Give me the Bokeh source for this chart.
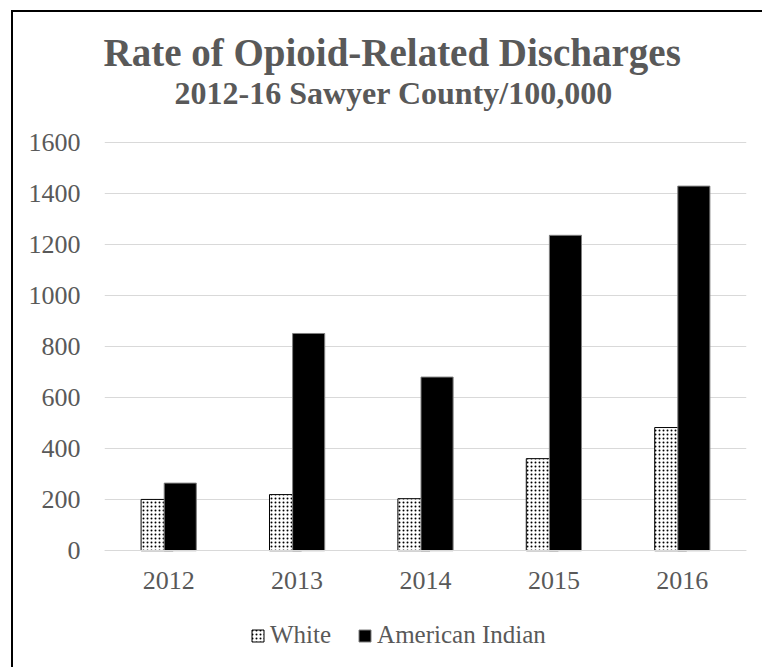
from bokeh.plotting import figure
from bokeh.models import (ColumnDataSource, FactorRange, Range1d, Legend,
                          LegendItem, FixedTicker, Title)
from bokeh.transform import dodge
from bokeh.embed import file_html
from bokeh.resources import INLINE

# ---- data ----
years = ["2012", "2013", "2014", "2015", "2016"]
white = [201, 220, 204, 361, 483]
american_indian = [265, 852, 681, 1237, 1430]
y_ticks = [0, 200, 400, 600, 800, 1000, 1200, 1400, 1600]
title_text = "Rate of Opioid-Related Discharges"
subtitle_text = "2012-16 Sawyer County/100,000"
series_names = ["White", "American Indian"]

FONT = "Liberation Serif"
GRAY = "#595959"
GRID = "#D9D9D9"

src = ColumnDataSource(dict(year=years, white=white, ai=american_indian))

# the plot frame extends below zero to host the legend; the x axis sits at y=0
p = figure(width=751, height=657, output_backend="svg", toolbar_location=None,
           x_range=FactorRange(factors=years), y_range=Range1d(-419, 1605),
           min_border_left=91, min_border_right=18, min_border_top=129,
           min_border_bottom=12, title=None)
p.outline_line_color = None
p.background_fill_color = "white"
p.border_fill_color = "white"
p.styles = {"margin-left": "11px", "margin-top": "10px",
            "border-left": "2px solid black", "border-top": "2px solid black"}

r_white = p.vbar(x=dodge("year", -0.09, range=p.x_range), top="white", width=0.25,
                 source=src, fill_color="white", line_color="black", line_width=1,
                 hatch_pattern="dot", hatch_color="black", hatch_scale=4, hatch_weight=1)
r_ai = p.vbar(x=dodge("year", 0.09, range=p.x_range), top="ai", width=0.25,
              source=src, fill_color="black", line_color="#7f7f7f", line_width=1)

# axes
p.yaxis.ticker = FixedTicker(ticks=y_ticks)
p.yaxis.axis_line_color = None
p.yaxis.major_tick_line_color = None
p.yaxis.minor_tick_line_color = None
p.yaxis.major_label_standoff = 18
p.xaxis.fixed_location = 0
p.xaxis.axis_line_color = GRID
p.xaxis.axis_line_width = 1
p.xaxis.major_tick_line_color = None
p.xaxis.minor_tick_line_color = None
p.xaxis.major_label_standoff = 15
for ax in (p.xaxis, p.yaxis):
    ax.major_label_text_font = FONT
    ax.major_label_text_font_size = "26px"
    ax.major_label_text_color = GRAY

p.xgrid.grid_line_color = None
p.ygrid.grid_line_color = GRID
p.ygrid.grid_line_width = 1
p.ygrid.ticker = FixedTicker(ticks=y_ticks)

# titles (first added = closest to the plot)
p.add_layout(Title(text=" ", text_font=FONT, text_font_size="26px", standoff=0), "above")
p.add_layout(Title(text=subtitle_text, text_font=FONT, text_font_style="bold",
                   text_font_size="32px", text_color=GRAY, align="left", offset=70,
                   standoff=0), "above")
p.add_layout(Title(text=title_text, text_font=FONT, text_font_style="bold",
                   text_font_size="39px", text_color=GRAY, align="left", offset=-1,
                   standoff=-3), "above")

legend = Legend(items=[LegendItem(label=series_names[0], renderers=[r_white]),
                       LegendItem(label=series_names[1], renderers=[r_ai])],
                orientation="horizontal", location=(146, 8),
                glyph_width=15, glyph_height=15, label_standoff=5, spacing=26,
                padding=0, margin=0, border_line_color=None, background_fill_alpha=0,
                label_text_font=FONT, label_text_font_size="25px", label_text_color=GRAY)
p.add_layout(legend, "center")

open("out.html", "w").write(file_html(p, INLINE))
